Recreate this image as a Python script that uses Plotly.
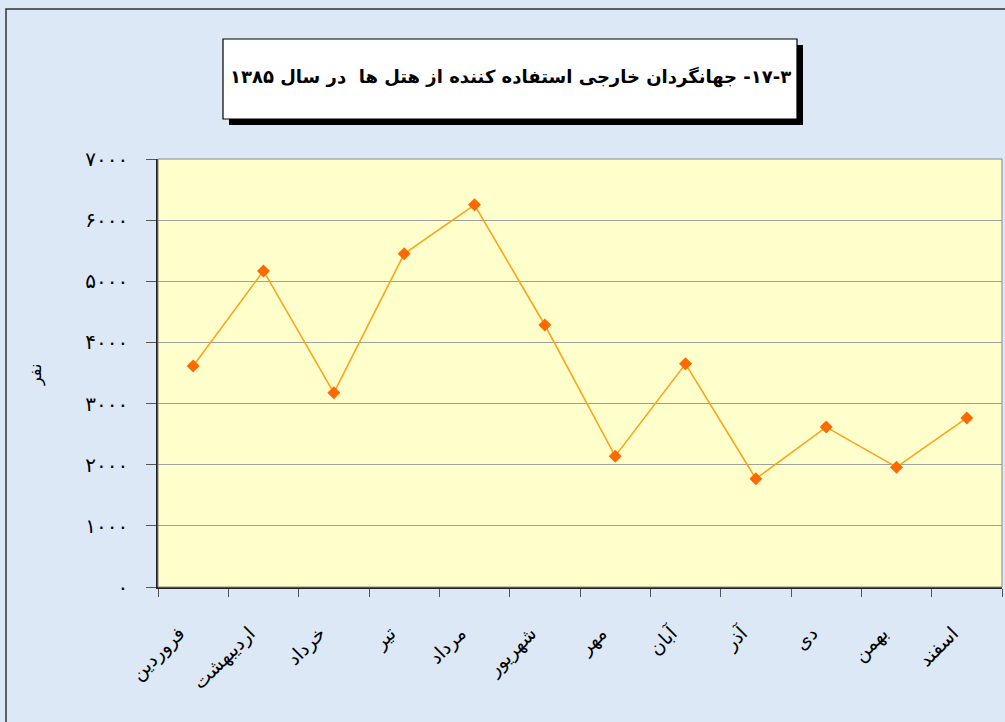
import plotly.graph_objects as go

months = ["فروردین", "اردیبهشت", "خرداد", "تیر", "مرداد", "شهریور",
          "مهر", "آبان", "آذر", "دی", "بهمن", "اسفند"]
tourists = [3615, 5170, 3175, 5450, 6250, 4285, 2140, 3650, 1770, 2615, 1960, 2765]
y_tick_vals = [0, 1000, 2000, 3000, 4000, 5000, 6000, 7000]
y_tick_text = ["۰", "۱۰۰۰", "۲۰۰۰", "۳۰۰۰", "۴۰۰۰", "۵۰۰۰", "۶۰۰۰", "۷۰۰۰"]
title_text = "۳\u200f-۱۷- جهانگردان خارجی استفاده کننده از هتل ها  در سال ۱۳۸۵"
y_title = "نفر"

W, H = 1005, 722
FONT = "DejaVu Sans"
RLE, PDF = "\u202b", "\u202c"

def px(x):
    return x / W

def py(y):
    return 1 - y / H

fig = go.Figure()
fig.add_trace(go.Scatter(
    x=months, y=tourists, mode="lines+markers",
    line=dict(color="#FFA31A", width=1.6),
    marker=dict(symbol="diamond", size=10, color="#FF6A00"),
    showlegend=False, hoverinfo="x+y",
))

fig.update_layout(
    width=W, height=H,
    margin=dict(l=0, r=0, t=0, b=0, autoexpand=False),
    paper_bgcolor="#DCE8F6",
    plot_bgcolor="#FFFFCC",
    font=dict(family=FONT, color="#000000"),
    xaxis=dict(
        domain=[px(158), px(1002)],
        type="category",
        range=[-0.5, len(months) - 0.5],
        tickson="boundaries",
        ticks="outside", ticklen=8, tickcolor="#555555",
        showline=True, linecolor="#222222", linewidth=1.5,
        showgrid=False, tickangle=-45,
        tickfont=dict(size=19, family=FONT),
        ticklabelstandoff=26, ticklabelshift=-14,
        automargin=False,
    ),
    yaxis=dict(
        domain=[py(587), py(159)],
        range=[0, 7000],
        tickvals=y_tick_vals, ticktext=y_tick_text,
        ticks="outside", ticklen=10, tickcolor="#555555",
        showline=True, linecolor="#222222", linewidth=1.5,
        showgrid=True, gridcolor="#A0A0A0", gridwidth=1,
        tickfont=dict(size=20, family=FONT),
        ticklabelstandoff=14,
        zeroline=False,
        automargin=False,
    ),
)

shapes = [
    dict(type="rect", xref="paper", yref="paper",
         x0=px(6), x1=px(1010), y0=py(730), y1=py(9),
         line=dict(color="#333333", width=1.5), fillcolor="rgba(0,0,0,0)", layer="below"),
    dict(type="rect", xref="paper", yref="paper",
         x0=px(158), x1=px(1002), y0=py(587), y1=py(159),
         line=dict(color="#888888", width=1), fillcolor="rgba(0,0,0,0)"),
    dict(type="rect", xref="paper", yref="paper",
         x0=px(229), x1=px(803), y0=py(125), y1=py(45),
         line=dict(width=0), fillcolor="#000000"),
    dict(type="rect", xref="paper", yref="paper",
         x0=px(223), x1=px(797), y0=py(119), y1=py(39),
         line=dict(color="#000000", width=1.2), fillcolor="#FFFFFF"),
]
fig.update_layout(shapes=shapes)

fig.add_annotation(
    xref="paper", yref="paper", x=px(510), y=py(77),
    text="<b>" + RLE + title_text + PDF + "</b>",
    showarrow=False, font=dict(size=18, family=FONT, color="#000000"),
    xanchor="center", yanchor="middle",
)

fig.add_annotation(
    xref="paper", yref="paper", x=px(36), y=py(375),
    text=y_title, textangle=-90,
    showarrow=False, font=dict(size=16, family=FONT, color="#000000"),
    xanchor="center", yanchor="middle",
)

fig.write_html(
    "out.html",
    config={"displayModeBar": False},
    post_script="document.body.style.margin='0';document.body.style.overflow='hidden';",
)
